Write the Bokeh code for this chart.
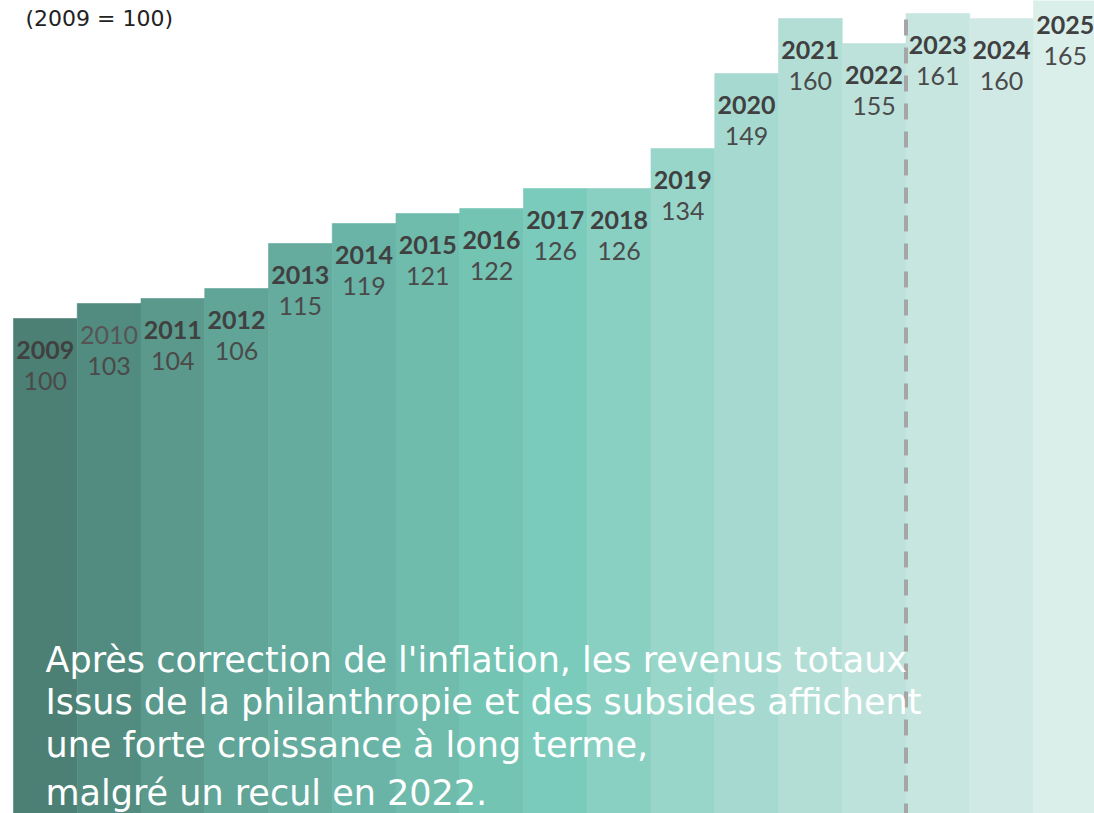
from bokeh.plotting import figure
from bokeh.models import Range1d, Label, ColumnDataSource
from bokeh.core.properties import value
from bokeh.embed import file_html
from bokeh.resources import INLINE

# ---- data ----
years = [2009, 2010, 2011, 2012, 2013, 2014, 2015, 2016, 2017,
         2018, 2019, 2020, 2021, 2022, 2023, 2024, 2025]
index_values = [100, 103, 104, 106, 115, 119, 121, 122, 126,
                126, 134, 149, 160, 155, 161, 160, 165]
year_labels = [str(y) for y in years]
value_labels = [str(v) for v in index_values]
bar_colors = ["#4c8075", "#528c80", "#5a998c", "#60a597", "#65ab9e", "#69b4a7",
              "#6fbbac", "#74c4b3", "#7acbbc", "#89d0c3", "#99d6ca", "#a6dad1",
              "#b2ded5", "#bde2db", "#c7e6e0", "#d1e9e5", "#daeeea"]
year_styles = ["normal" if y == 2010 else "bold" for y in years]
year_colors = ["#555555" if y == 2010 else "#404040" for y in years]
forecast_split = 2022.5
subtitle = "(2009 = 100)"
note_lines = ["Après correction de l'inflation, les revenus totaux",
              "Issus de la philanthropie et des subsides affichent",
              "une forte croissance à long terme,",
              "malgré un recul en 2022."]

FONT = "Lato"

src = ColumnDataSource(dict(year=years, val=index_values, ylab=year_labels,
                            vlab=value_labels, color=bar_colors,
                            ystyle=year_styles, ycolor=year_colors))

W, H = 1094, 813
p = figure(width=W, height=H, output_backend="svg", toolbar_location=None,
           x_range=Range1d(2008.2961, 2025.4569), y_range=Range1d(1, 163.6),
           min_border=0, min_border_left=0, min_border_right=0,
           min_border_top=0, min_border_bottom=0)
p.xaxis.visible = False
p.yaxis.visible = False
p.grid.visible = False
p.outline_line_color = None
p.background_fill_color = "white"
p.border_fill_color = "white"

p.vbar(x="year", top="val", bottom=0, width=1.0, source=src,
       fill_color="color", line_color="color", line_width=0.6)

p.text(x="year", y="val", text="ylab", source=src, y_offset=31,
       text_align="center", text_baseline="middle",
       text_font=value(FONT), text_font_size="25px",
       text_font_style="ystyle", text_color="ycolor")
p.text(x="year", y="val", text="vlab", source=src, y_offset=62,
       text_align="center", text_baseline="middle",
       text_font=value(FONT), text_font_size="25px",
       text_font_style="normal", text_color="#4a4a4a")

# note text
baselines = [659, 701, 744, 792]
for line, b in zip(note_lines, baselines):
    p.add_layout(Label(x=45, y=H - b, x_units="screen", y_units="screen",
                       text=line, text_font="DejaVu Sans", text_font_size="35px",
                       text_color="white", text_baseline="alphabetic",
                       text_align="left"))

p.add_layout(Label(x=25, y=H - 18, x_units="screen", y_units="screen",
                   text=subtitle, text_font="DejaVu Sans", text_font_size="22px",
                   text_color="#222222", text_baseline="middle",
                   text_align="left"))

p.segment(x0=[forecast_split], y0=[159.8], x1=[forecast_split], y1=[0],
          line_color="#a6a6a6", line_width=4, line_dash="16 12")

open("out.html", "w").write(file_html(p, INLINE))
